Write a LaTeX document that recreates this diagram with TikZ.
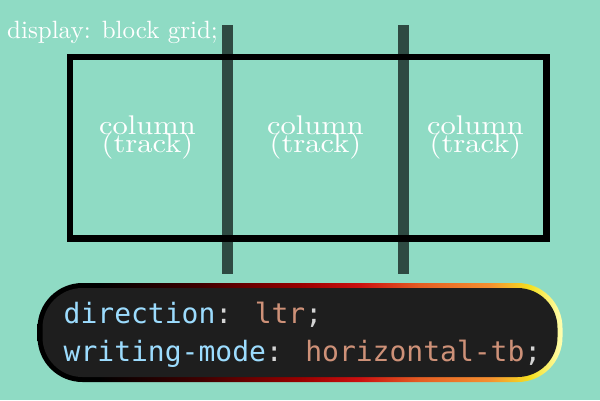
\documentclass[tikz,border=0pt]{standalone}
\usepackage{fontspec}
\newfontfamily\codefont{DejaVu Sans Mono}
\newfontfamily\tenfont{lmroman10-regular.otf}
\usetikzlibrary{calc}
\definecolor{gridbg}{HTML}{8FDBC4}
\definecolor{gridline}{HTML}{2E4A42}
\definecolor{codebg}{HTML}{1E1E1E}
\definecolor{cssprop}{HTML}{9CDCFE}
\definecolor{cssval}{HTML}{CE9178}
\definecolor{csspunct}{HTML}{D4D4D4}
\definecolor{pillred}{HTML}{CC1010}
\definecolor{pillorange}{HTML}{F59030}
\definecolor{pillyellow}{HTML}{F5E020}
\pgfdeclarehorizontalshading{pillborder}{100bp}{color(0bp)=(black); color(30.9bp)=(black); color(40.5bp)=(black!75!red); color(50bp)=(black!40!red); color(55.7bp)=(pillred); color(61.4bp)=(pillred!40!pillorange); color(68.1bp)=(pillorange); color(71.9bp)=(pillyellow); color(75bp)=(yellow!30!white); color(100bp)=(yellow!30!white)}
\def\cssline#1#2{\textcolor{cssprop}{#1}\textcolor{csspunct}{:} \textcolor{cssval}{#2}\textcolor{csspunct}{;}}
\tikzset{
	coltext/.style={anchor=base, text=white, inner sep=0, font=\tenfont\fontsize{27}{30}\selectfont, xscale=1.13},
	codetext/.style={anchor=base west, inner sep=0, font=\codefont\fontsize{28}{34}\selectfont}
}

\begin{document}
\begin{tikzpicture}[x=1pt, y=-1pt]
	%%%%% START %%%%%
	
	\fill[gridbg] (0, 0) rectangle (600, 400);
	\useasboundingbox (0, 0) rectangle (600, 400);
	
	\node[anchor=base west, text=white, inner sep=0, font=\tenfont\fontsize{25}{30}\selectfont] (disp) at (7, 38) {display: block grid;};
	
	% grid lines
	\fill[gridline] (222, 25) rectangle (233, 274);
	\fill[gridline] (398, 25) rectangle (409, 274);
	
	\draw[line width=6.5pt] (70, 57) rectangle (546.5, 238.5);
	
	\foreach \cx/\nm in {147.5/a, 315.5/b, 475.5/c} {
		\node[coltext] (col\nm) at (\cx, 134) {column};
		\node[coltext] (trk\nm) at (\cx, 152) {(track)};
	}
	
	% code box
	\shade[shading=pillborder, rounded corners=45pt] (37.5, 283) rectangle (562.5, 382);
	\fill[codebg, rounded corners=40pt] (42.5, 288) rectangle (557.5, 377);
	
	\node[codetext] (dir) at (63.5, 323) {\cssline{direction}{ltr}};
	\node[codetext] (wmode) at (63.5, 361) {\cssline{writing-mode}{horizontal-tb}};
	
	%%%%% END %%%%%
\end{tikzpicture}
\end{document}
